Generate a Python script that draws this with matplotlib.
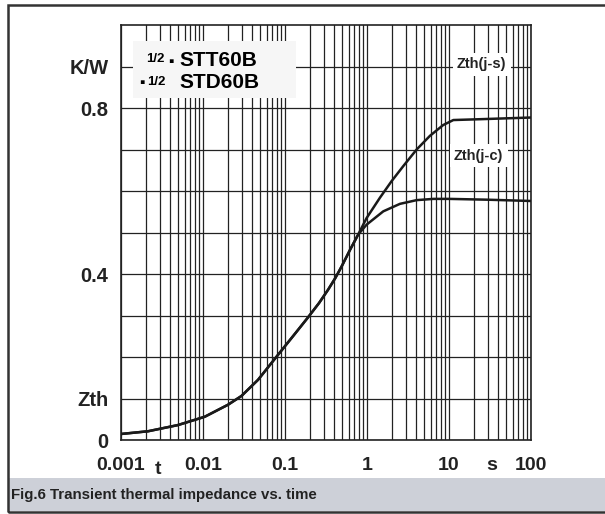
import matplotlib.pyplot as plt
import matplotlib.patches as patches
import numpy as np

plt.rcParams['font.family'] = ['Liberation Sans', 'DejaVu Sans']
plt.rcParams['font.weight'] = 'bold'

# shared part of both curves
t_common = [0.001, 0.00213, 0.00495, 0.0105, 0.0202, 0.0294, 0.0469, 0.082, 0.131, 0.19,
            0.26, 0.335, 0.41, 0.49, 0.62, 0.78]
z_common = [0.0145, 0.021, 0.036, 0.056, 0.085, 0.106, 0.145, 0.205, 0.255, 0.295,
            0.33, 0.362, 0.39, 0.418, 0.458, 0.495]

t_jc = [0.99, 1.58, 2.52, 4.03, 6.45, 10.1, 30, 98]
z_jc = [0.519, 0.551, 0.569, 0.578, 0.581, 0.581, 0.579, 0.576]

t_js = [0.99, 1.44, 2.0, 2.77, 4.03, 5.86, 8.5, 11.3, 23.9, 98]
z_js = [0.535, 0.584, 0.624, 0.66, 0.70, 0.733, 0.759, 0.771, 0.773, 0.777]

x_ticks = [0.001, 0.01, 0.1, 1, 10, 100]
x_labels = ['0.001', '0.01', '0.1', '1', '10', '100']
y_labels = {0.0: '0', 0.1: 'Zth', 0.4: '0.4', 0.8: '0.8', 0.9: 'K/W'}

W, H = 605, 514
fig = plt.figure(figsize=(W/100, H/100), dpi=100)

def px(x, y):
    return x / W, 1 - y / H

# outer frame and caption band
fig.patches.append(patches.Rectangle(px(9, 511), (W - 9) / W, 33 / H, transform=fig.transFigure,
                                     facecolor='#cdd0d8', edgecolor='none', zorder=0))
fig.patches.append(patches.Rectangle(px(8, 512), (W + 5) / W, 507 / H, transform=fig.transFigure,
                                     facecolor='none', edgecolor='#333333', lw=1.8, zorder=1))
fig.text(*px(11, 495), 'Fig.6 Transient thermal impedance vs. time', fontsize=10.8,
         fontweight='bold', va='center', ha='left', color='#222222')

ax = fig.add_axes([121/W, 74/H, 410/W, 415/H])
ax.set_xscale('log')
ax.set_xlim(0.001, 100)
ax.set_ylim(0, 1.0)

t1 = t_common + t_jc
z1 = z_common + z_jc
t2 = t_common + t_js
z2 = z_common + z_js
ax.plot(t1, z1, color='#1a1a1a', lw=1.8, zorder=3, solid_joinstyle='round')
ax.plot(t2, z2, color='#1a1a1a', lw=1.8, zorder=3, solid_joinstyle='round')

ax.set_xticks(x_ticks)
ax.set_xticklabels(x_labels, fontsize=14, fontweight='bold')
ax.set_xticks([m * d for d in x_ticks[:-1] for m in range(2, 10)], minor=True)
ax.set_xticklabels([], minor=True)
yt = np.round(np.arange(0, 1.0, 0.1), 1)
ax.set_yticks(yt)
ax.set_yticklabels([y_labels.get(v, '') for v in yt], fontsize=14.5, fontweight='bold')
ax.tick_params(axis='x', which='both', length=0, pad=12, colors='#222222')
ax.tick_params(axis='y', which='both', length=0, pad=9, colors='#222222')
ax.grid(True, which='both', color='#222222', lw=0.9)
for s in ax.spines.values():
    s.set_color('#222222')
    s.set_linewidth(1.2)

xt = ax.get_xaxis_transform()
ax.text(0.00283, -0.07, 't', transform=xt, fontsize=14, fontweight='bold',
        ha='center', va='center', color='#222222')
ax.text(33.4, -0.062, 's', transform=xt, fontsize=14, fontweight='bold',
        ha='center', va='center', color='#222222')

# curve labels
ax.text(25, 0.905, 'Zth(j-s)', fontsize=10.5, fontweight='bold', ha='center', va='center',
        color='#222222', zorder=4,
        bbox=dict(facecolor='white', edgecolor='none', pad=3))
ax.text(23, 0.685, 'Zth(j-c)', fontsize=10.5, fontweight='bold', ha='center', va='center',
        color='#222222', zorder=4,
        bbox=dict(facecolor='white', edgecolor='none', pad=3))

# device legend box
fig.patches.append(patches.Rectangle(px(133, 98), 163 / W, 57 / H, transform=fig.transFigure,
                                     facecolor='#f6f6f6', edgecolor='none', zorder=5))
fig.text(*px(146, 59), '1/2', fontsize=9.5, fontweight='bold', ha='left', va='center', zorder=6)
fig.text(*px(168, 62), '\u25aa', fontsize=11, fontweight='bold', ha='left', va='center', zorder=6)
fig.text(*px(179, 61), 'STT60B', fontsize=15, fontweight='bold', ha='left', va='center', zorder=6)
fig.text(*px(139, 83), '\u25aa', fontsize=11, fontweight='bold', ha='left', va='center', zorder=6)
fig.text(*px(147, 82), '1/2', fontsize=9.5, fontweight='bold', ha='left', va='center', zorder=6)
fig.text(*px(179, 82), 'STD60B', fontsize=15, fontweight='bold', ha='left', va='center', zorder=6)

fig.savefig('out.png', dpi=100)
